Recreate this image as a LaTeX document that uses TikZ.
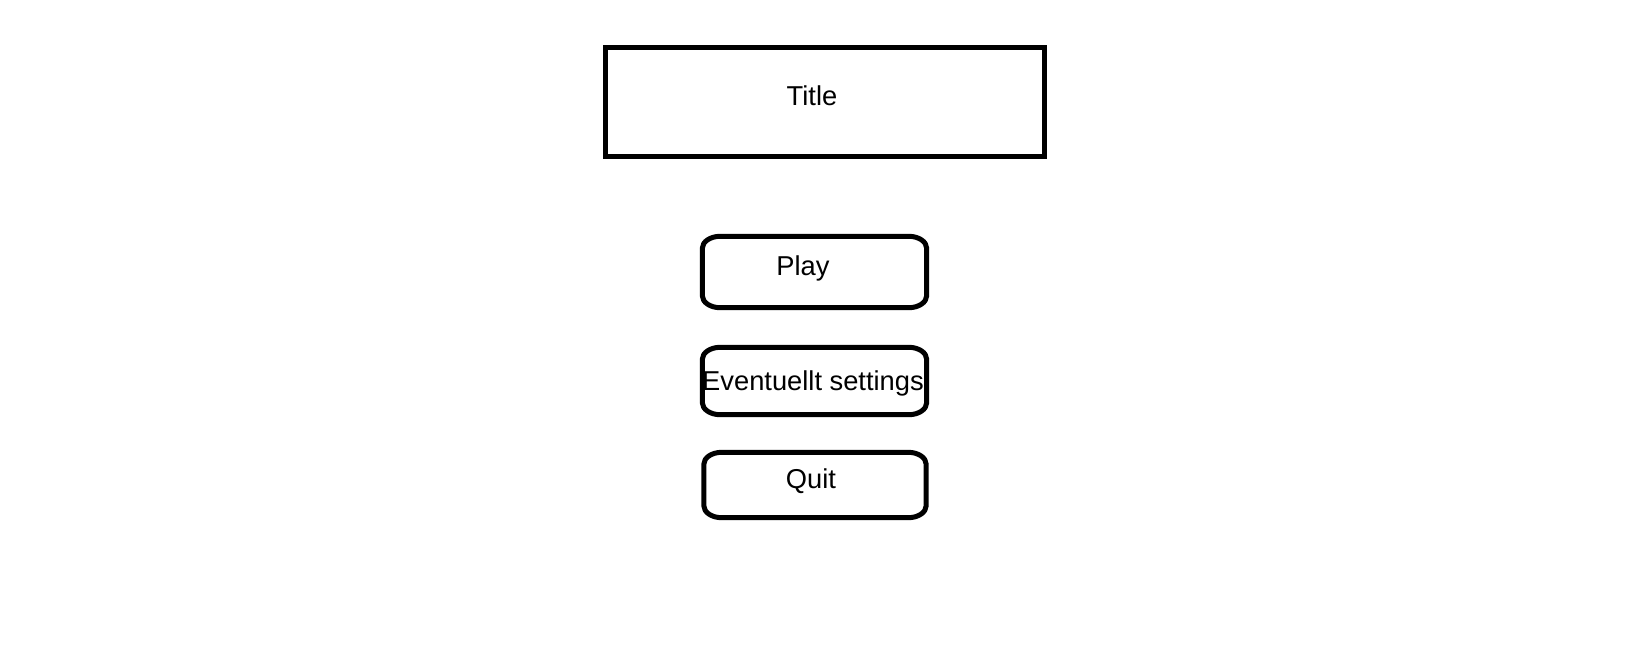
\documentclass[tikz,border=0pt]{standalone}
\usepackage{fontspec}
\setmainfont{Liberation Sans}
\begin{document}
\begin{tikzpicture}[x=1pt,y=-1pt,
  titlebox/.style={draw=black,line width=5pt,minimum width=439pt,minimum height=109pt,inner sep=0pt},
  btnarea/.style={draw=none,inner sep=0pt},
  btnline/.style={draw=black,line width=5pt,line join=round},
  lbl/.style={anchor=base,inner sep=0pt,font=\fontsize{27.3}{32}\selectfont}]
\useasboundingbox[fill=white] (0,0) rectangle (1640,648);
\newcommand{\btnpath}[1]{%
  \draw[btnline] ([xshift=18pt]#1.north west) -- ([xshift=-18pt]#1.north east)
    .. controls ([xshift=-8pt]#1.north east) and ([yshift=-5.4pt]#1.north east) .. ([yshift=-12pt]#1.north east)
    -- ([yshift=12pt]#1.south east)
    .. controls ([yshift=5.4pt]#1.south east) and ([xshift=-8pt]#1.south east) .. ([xshift=-18pt]#1.south east)
    -- ([xshift=18pt]#1.south west)
    .. controls ([xshift=8pt]#1.south west) and ([yshift=5.4pt]#1.south west) .. ([yshift=12pt]#1.south west)
    -- ([yshift=-12pt]#1.north west)
    .. controls ([yshift=-5.4pt]#1.north west) and ([xshift=8pt]#1.north west) .. cycle;}
\node[titlebox] (title) at (825,101.5) {};
\node[btnarea,minimum width=224pt,minimum height=71pt] (play) at (814.5,272) {};
\node[btnarea,minimum width=224pt,minimum height=67pt] (settings) at (814.5,381) {};
\node[btnarea,minimum width=222pt,minimum height=65pt] (quit) at (815,485) {};
\btnpath{play}
\btnpath{settings}
\btnpath{quit}
\node[lbl] (titletext) at (812,105) {Title};
\node[lbl] (playtext) at (803,275) {Play};
\node[lbl] (settingstext) at (813,390) {Eventuellt settings};
\node[lbl] (quittext) at (811,488) {Quit};
\end{tikzpicture}
\end{document}
